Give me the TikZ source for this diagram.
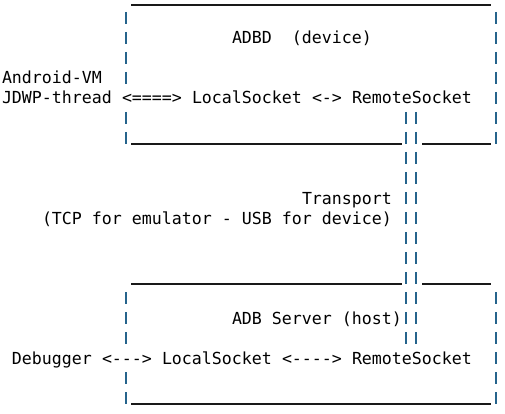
\documentclass[tikz,border=0pt]{standalone}
\usepackage{fontspec}
\setmonofont{DejaVu Sans Mono}
\definecolor{barcol}{RGB}{38,100,140}
\definecolor{rulecol}{RGB}{25,25,25}
\tikzset{
  bar/.style={draw=barcol, line width=1.25pt},
  rule/.style={draw=rulecol, line width=1.2pt},
  lbl/.style={anchor=base west, inner sep=0pt, outer sep=0pt, text=black,
    font=\ttfamily\fontsize{16.6}{20}\selectfont}
}
\newcommand{\cx}[1]{#1*10+2}
\begin{document}
\begin{tikzpicture}[x=1pt,y=-1pt]
\useasboundingbox (0,0) rectangle (505,414);
% horizontal rules (underscores)
\draw[rule] (131,5) -- (491,5);
\draw[rule] (131,144) -- (402,144);
\draw[rule] (422,144) -- (491,144);
\draw[rule] (131,284) -- (402,284);
\draw[rule] (422,284) -- (491,284);
\draw[rule] (131,404) -- (491,404);
% bars
\foreach \k in {1,2,3,4,6,7} \draw[bar] (126,{18+20*(\k-1)-6}) -- ++(0,12);
\foreach \k in {1,...,7} \draw[bar] (496,{18+20*(\k-1)-6}) -- ++(0,12);
\foreach \k in {6,...,17} {
  \draw[bar] (406,{18+20*(\k-1)-6}) -- ++(0,12);
  \draw[bar] (416,{18+20*(\k-1)-6}) -- ++(0,12);
}
\foreach \k in {15,16,17,19,20} \draw[bar] (126,{18+20*(\k-1)-6}) -- ++(0,12);
\foreach \k in {15,...,20} \draw[bar] (496,{18+20*(\k-1)-6}) -- ++(0,12);
% texts
\node[lbl] (adbd) at ({\cx{23}},44) {ADBD\ \ (device)};
\node[lbl] (avm) at ({\cx{0}},84) {Android-VM};
\node[lbl] (jdwp) at ({\cx{0}},104) {JDWP-thread};
\node[lbl] (arr1) at ({\cx{12}},104) {<====>};
\node[lbl] (ls1) at ({\cx{19}},104) {LocalSocket};
\node[lbl] (arr2) at ({\cx{31}},104) {<->};
\node[lbl] (rs1) at ({\cx{35}},104) {RemoteSocket};
\node[lbl] (transport) at ({\cx{30}},204) {Transport};
\node[lbl] (tcp) at ({\cx{4}},224) {(TCP for emulator - USB for device)};
\node[lbl] (server) at ({\cx{23}},324) {ADB Server (host)};
\node[lbl] (dbg) at ({\cx{1}},364) {Debugger};
\node[lbl] (arr3) at ({\cx{10}},364) {<--->};
\node[lbl] (ls2) at ({\cx{16}},364) {LocalSocket};
\node[lbl] (arr4) at ({\cx{28}},364) {<---->};
\node[lbl] (rs2) at ({\cx{35}},364) {RemoteSocket};
\end{tikzpicture}
\end{document}
